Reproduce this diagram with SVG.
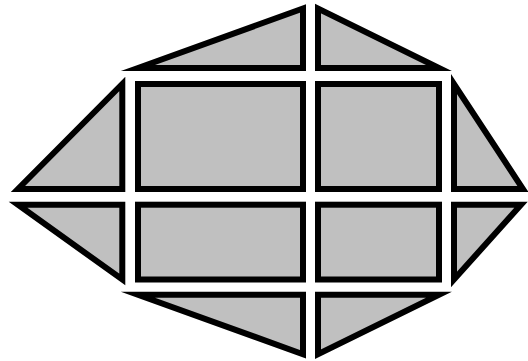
<svg xmlns="http://www.w3.org/2000/svg" width="528" height="361" viewBox="0 0 528 361">
<style>
.c{fill:#c0c0c0;stroke:#000;stroke-width:6;stroke-linejoin:miter;stroke-miterlimit:20}
</style>
<rect width="528" height="361" fill="#fff"/>
<g id="top-left"><polygon class="c" points="138,68 303,8.5 303,68"/></g>
<g id="top-right"><polygon class="c" points="318,8.5 318,68 439,68"/></g>
<g id="mid-left"><polygon class="c" points="122.3,84 122.3,189 18,189"/></g>
<g id="mid-a"><rect class="c" x="138" y="84" width="165" height="105"/></g>
<g id="mid-b"><rect class="c" x="318" y="84" width="121" height="105"/></g>
<g id="mid-right"><polygon class="c" points="454,84 454,189 523,189"/></g>
<g id="low-left"><polygon class="c" points="18,204.7 122.3,204.7 122.3,279.5"/></g>
<g id="low-a"><rect class="c" x="138" y="204.7" width="165" height="74.8"/></g>
<g id="low-b"><rect class="c" x="318" y="204.7" width="121" height="74.8"/></g>
<g id="low-right"><polygon class="c" points="454,204.7 521,204.7 454,279.5"/></g>
<g id="bottom-left"><polygon class="c" points="138,294.7 303,294.7 303,354.2"/></g>
<g id="bottom-right"><polygon class="c" points="318,294.7 439,294.7 318,354.2"/></g>
</svg>
